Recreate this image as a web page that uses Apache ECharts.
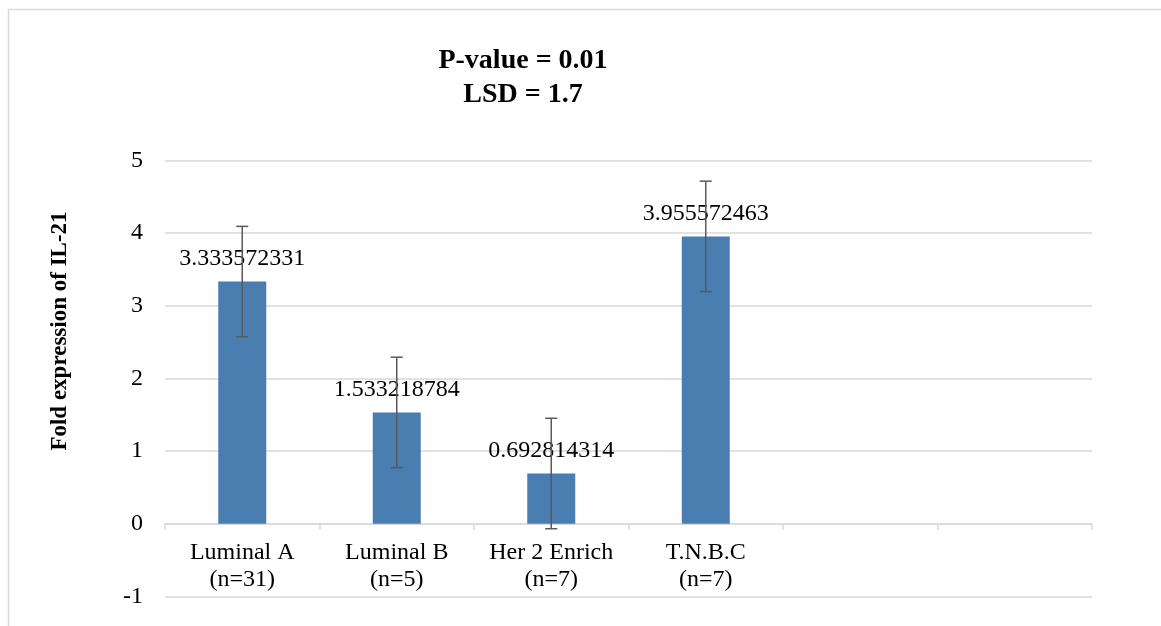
<!DOCTYPE html>
<html>
<head>
<meta charset="utf-8">
<style>html,body{margin:0;padding:0;background:#fff}#c{width:1161px;height:626px}</style>
<script src="https://cdn.jsdelivr.net/npm/echarts@6/dist/echarts.min.js"></script>
</head>
<body>
<div id="c"></div>
<script>
var categories = ['Luminal A\n(n=31)', 'Luminal B\n(n=5)', 'Her 2 Enrich\n(n=7)', 'T.N.B.C\n(n=7)', '', ''];
var values = [3.333572331, 1.533218784, 0.692814314, 3.955572463, null, null];
var errors = [0.76, 0.76, 0.76, 0.76, null, null];
var yTicks = [-1, 0, 1, 2, 3, 4, 5];
var titleLines = ['P-value = 0.01', 'LSD = 1.7'];
var yName = 'Fold expression of IL-21';

var serif = '"Liberation Serif","Times New Roman",serif';
var chart = echarts.init(document.getElementById('c'));
var barData = values.map(function (v) { return v == null ? '-' : v; });
var errData = [];
values.forEach(function (v, i) { if (v != null) errData.push([i, v, errors[i]]); });

chart.setOption({
  animation: false,
  backgroundColor: '#fff',
  grid: { left: 165, right: 69, top: 160.5, bottom: 29.5, containLabel: false, outerBoundsMode: 'none' },
  graphic: [
    { type: 'rect', shape: { x: 8.5, y: 9.5, width: 1160, height: 700 }, style: { fill: 'none', stroke: '#d9d9d9', lineWidth: 1.5 }, silent: true },
    { type: 'text', x: 523, y: 78, style: { text: titleLines.join('\n'), font: 'bold 28px ' + serif, fill: '#000', align: 'center', verticalAlign: 'middle', lineHeight: 34 } },
    { type: 'text', x: 60, y: 331, rotation: Math.PI / 2, style: { text: yName, font: 'bold 23px ' + serif, fill: '#000', align: 'center', verticalAlign: 'middle' } }
  ],
  xAxis: {
    type: 'category',
    data: categories,
    boundaryGap: true,
    axisLine: { onZero: true, lineStyle: { color: '#d9d9d9', width: 1.5 } },
    axisTick: { show: true, length: 6, lineStyle: { color: '#d9d9d9', width: 1.5 } },
    axisLabel: { color: '#000', fontFamily: serif, fontSize: 24, lineHeight: 27, margin: -57.5, interval: 0 },
    splitLine: { show: false }
  },
  yAxis: {
    type: 'value',
    min: yTicks[0], max: yTicks[yTicks.length - 1], interval: 1,
    axisLine: { show: false },
    axisTick: { show: false },
    axisLabel: { color: '#000', fontFamily: serif, fontSize: 24, margin: 22 },
    splitLine: { lineStyle: { color: '#d9d9d9', width: 1.5 } }
  },
  series: [
    {
      type: 'bar',
      data: barData,
      barWidth: 48,
      itemStyle: { color: '#4a7eb1' },
      label: { show: true, position: 'top', distance: 11, color: '#000', fontFamily: serif, fontSize: 24,
        formatter: function (p) { return String(p.value); } },
      z: 2
    },
    {
      type: 'custom',
      data: errData,
      z: 5,
      renderItem: function (params, api) {
        var i = api.value(0), v = api.value(1), e = api.value(2);
        var top = api.coord([i, v + e]);
        var bot = api.coord([i, v - e]);
        var x = top[0], hw = 6;
        var st = { stroke: '#595959', lineWidth: 1.5 };
        return { type: 'group', children: [
          { type: 'line', shape: { x1: x, y1: top[1], x2: x, y2: bot[1] }, style: st },
          { type: 'line', shape: { x1: x - hw, y1: top[1], x2: x + hw, y2: top[1] }, style: st },
          { type: 'line', shape: { x1: x - hw, y1: bot[1], x2: x + hw, y2: bot[1] }, style: st }
        ] };
      }
    }
  ]
});
</script>
</body>
</html>
